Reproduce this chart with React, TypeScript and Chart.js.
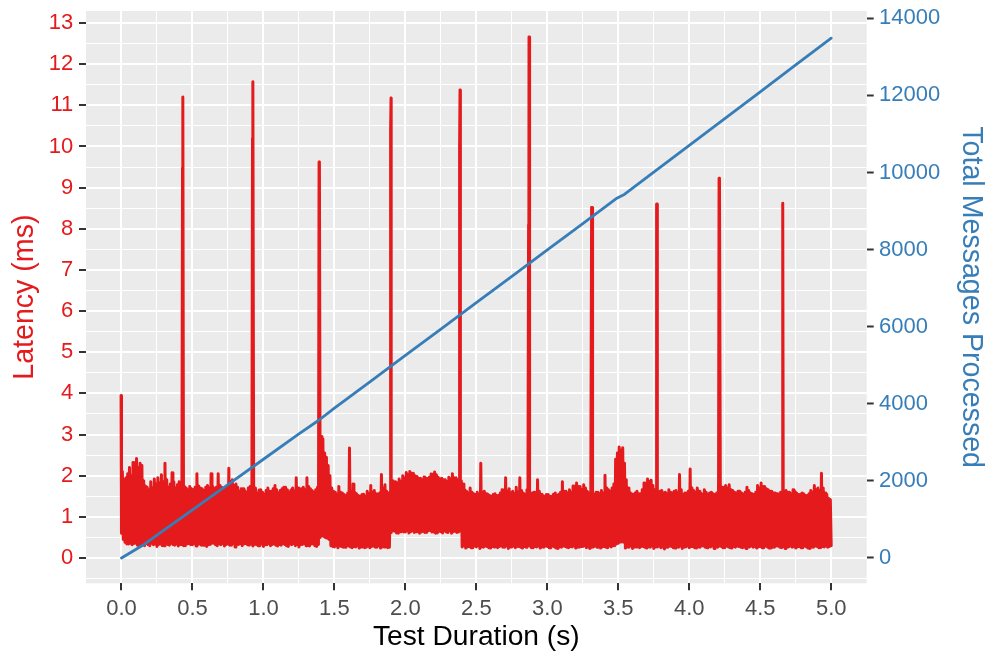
import React, { useEffect, useRef } from "react";
import { Chart, registerables } from "chart.js";

Chart.register(...registerables);

const FONT = "'Liberation Sans', Arial, Helvetica, sans-serif";
const RED = "#E41A1C";
const BLUE = "#377EB8";

// Latency band, one min/max pair per 12.5 ms window (0.000 s .. 5.000 s)
const windowStep = 0.0125;
const latencyLow = [
  0.60, 0.45, 0.38, 0.34, 0.34, 0.36, 0.32, 0.35, 0.36, 0.31, 0.30, 0.34, 0.33, 0.30, 0.35, 0.32, 0.30, 0.36, 0.32, 0.34,
  0.28, 0.33, 0.34, 0.30, 0.30, 0.35, 0.33, 0.31, 0.36, 0.33, 0.31, 0.34, 0.29, 0.33, 0.33, 0.30, 0.30, 0.34, 0.35, 0.32,
  0.32, 0.35, 0.29, 0.33, 0.34, 0.31, 0.31, 0.35, 0.28, 0.32, 0.33, 0.36, 0.36, 0.32, 0.30, 0.34, 0.32, 0.35, 0.29, 0.33,
  0.34, 0.31, 0.31, 0.35, 0.27, 0.32, 0.33, 0.35, 0.30, 0.34, 0.35, 0.32, 0.31, 0.34, 0.29, 0.33, 0.33, 0.30, 0.30, 0.34,
  0.28, 0.32, 0.32, 0.35, 0.30, 0.33, 0.34, 0.31, 0.29, 0.33, 0.31, 0.35, 0.33, 0.30, 0.28, 0.34, 0.32, 0.35, 0.30, 0.33,
  0.27, 0.32, 0.33, 0.35, 0.30, 0.33, 0.29, 0.34, 0.34, 0.30, 0.28, 0.33, 0.50, 0.54, 0.52, 0.49, 0.48, 0.45, 0.30, 0.28,
  0.27, 0.30, 0.25, 0.29, 0.28, 0.26, 0.26, 0.30, 0.29, 0.27, 0.25, 0.28, 0.27, 0.30, 0.24, 0.27, 0.28, 0.25, 0.26, 0.29,
  0.25, 0.28, 0.29, 0.26, 0.26, 0.30, 0.24, 0.27, 0.27, 0.29, 0.25, 0.26, 0.62, 0.66, 0.65, 0.61, 0.60, 0.64, 0.66, 0.63,
  0.63, 0.66, 0.61, 0.64, 0.66, 0.62, 0.64, 0.67, 0.60, 0.63, 0.65, 0.62, 0.62, 0.66, 0.67, 0.63, 0.63, 0.60, 0.61, 0.65,
  0.64, 0.61, 0.66, 0.63, 0.62, 0.66, 0.60, 0.64, 0.65, 0.62, 0.63, 0.66, 0.27, 0.30, 0.24, 0.27, 0.28, 0.25, 0.25, 0.29,
  0.27, 0.30, 0.23, 0.27, 0.26, 0.29, 0.28, 0.25, 0.24, 0.28, 0.27, 0.30, 0.25, 0.28, 0.29, 0.26, 0.26, 0.30, 0.23, 0.27,
  0.27, 0.29, 0.25, 0.28, 0.28, 0.26, 0.24, 0.28, 0.26, 0.30, 0.29, 0.25, 0.25, 0.28, 0.27, 0.29, 0.24, 0.27, 0.26, 0.29,
  0.28, 0.25, 0.25, 0.29, 0.27, 0.24, 0.23, 0.27, 0.26, 0.29, 0.28, 0.26, 0.25, 0.28, 0.27, 0.29, 0.24, 0.26, 0.26, 0.28,
  0.28, 0.30, 0.25, 0.27, 0.23, 0.26, 0.27, 0.29, 0.26, 0.28, 0.24, 0.27, 0.28, 0.26, 0.25, 0.29, 0.27, 0.30, 0.30, 0.34,
  0.36, 0.39, 0.40, 0.38, 0.24, 0.27, 0.26, 0.29, 0.23, 0.26, 0.27, 0.29, 0.25, 0.28, 0.28, 0.26, 0.24, 0.27, 0.26, 0.29,
  0.23, 0.27, 0.27, 0.29, 0.25, 0.27, 0.22, 0.26, 0.26, 0.29, 0.28, 0.25, 0.24, 0.27, 0.26, 0.29, 0.23, 0.26, 0.27, 0.29,
  0.25, 0.28, 0.28, 0.25, 0.24, 0.27, 0.26, 0.29, 0.29, 0.26, 0.25, 0.28, 0.27, 0.29, 0.23, 0.27, 0.26, 0.29, 0.28, 0.25,
  0.25, 0.29, 0.27, 0.25, 0.24, 0.28, 0.26, 0.29, 0.28, 0.26, 0.25, 0.27, 0.23, 0.26, 0.27, 0.29, 0.26, 0.28, 0.24, 0.27,
  0.28, 0.25, 0.25, 0.29, 0.27, 0.24, 0.24, 0.26, 0.26, 0.29, 0.29, 0.26, 0.25, 0.28, 0.23, 0.26, 0.27, 0.29, 0.26, 0.28,
  0.24, 0.27, 0.28, 0.25, 0.25, 0.29, 0.27, 0.24, 0.23, 0.26, 0.26, 0.29, 0.28, 0.25, 0.25, 0.28, 0.27, 0.29, 0.26, 0.28,
  0.30,
];
const latencyHigh = [
  2.10, 1.90, 1.95, 2.05, 2.20, 2.00, 2.32, 2.15, 2.42, 2.20, 2.30, 2.25, 1.88, 1.75, 1.72, 1.65, 1.85, 1.70, 1.92, 1.80,
  1.95, 1.82, 2.02, 1.85, 2.30, 1.90, 1.72, 1.80, 2.07, 1.85, 1.70, 1.78, 1.85, 1.72, 1.66, 1.74, 1.70, 1.65, 1.74, 1.68,
  1.66, 1.72, 2.05, 1.75, 1.70, 1.68, 1.64, 1.72, 1.76, 1.70, 2.05, 1.74, 1.68, 1.72, 2.05, 1.76, 1.72, 1.68, 1.70, 1.75,
  2.18, 1.85, 1.90, 1.76, 1.80, 1.72, 1.62, 1.68, 1.68, 1.64, 1.60, 1.70, 1.74, 1.66, 1.62, 1.70, 1.58, 1.65, 1.66, 1.60,
  1.55, 1.64, 1.70, 1.62, 1.62, 1.68, 1.76, 1.66, 1.58, 1.64, 1.68, 1.72, 1.72, 1.66, 1.60, 1.65, 1.70, 1.62, 1.95, 1.70,
  1.64, 1.68, 1.72, 1.66, 1.95, 1.74, 1.68, 1.64, 1.60, 1.66, 1.72, 1.70, 2.95, 2.90, 2.55, 2.45, 2.25, 2.00, 1.70, 1.62,
  1.60, 1.55, 1.74, 1.60, 1.58, 1.54, 1.52, 1.58, 2.67, 1.62, 1.80, 1.60, 1.56, 1.52, 1.50, 1.54, 1.55, 1.50, 1.62, 1.56,
  1.76, 1.60, 1.64, 1.56, 1.52, 1.58, 2.03, 1.70, 1.78, 1.62, 1.58, 1.55, 1.88, 1.80, 1.85, 1.82, 1.92, 1.86, 2.00, 1.94,
  2.08, 2.02, 2.10, 2.06, 2.06, 2.00, 1.98, 1.94, 1.94, 1.90, 1.97, 1.92, 1.93, 1.96, 2.04, 1.98, 2.09, 2.02, 1.96, 1.92,
  1.94, 1.90, 1.90, 1.86, 1.96, 1.92, 2.05, 1.95, 1.95, 1.90, 1.85, 1.88, 1.80, 1.66, 1.62, 1.58, 1.70, 1.60, 1.56, 1.54,
  1.60, 1.55, 2.30, 1.60, 1.62, 1.56, 1.55, 1.52, 1.50, 1.54, 1.56, 1.52, 1.52, 1.58, 1.66, 1.60, 1.95, 1.62, 1.68, 1.58,
  1.62, 1.56, 1.72, 1.60, 1.95, 1.64, 1.58, 1.54, 1.66, 1.60, 1.55, 1.58, 1.60, 1.56, 1.90, 1.62, 1.55, 1.52, 1.50, 1.54,
  1.54, 1.50, 1.50, 1.55, 1.58, 1.52, 1.55, 1.60, 1.85, 1.62, 1.62, 1.58, 1.66, 1.60, 1.75, 1.68, 1.82, 1.74, 1.74, 1.66,
  1.78, 1.70, 1.62, 1.58, 1.58, 1.54, 1.55, 1.60, 1.60, 1.56, 1.64, 1.58, 2.01, 1.70, 1.66, 1.62, 1.70, 1.80, 2.40, 2.55,
  2.70, 2.62, 2.68, 2.30, 1.90, 1.70, 1.60, 1.56, 1.54, 1.58, 1.62, 1.56, 1.56, 1.66, 1.82, 1.70, 1.92, 1.86, 1.89, 1.76,
  1.66, 1.60, 1.58, 1.62, 1.64, 1.58, 1.60, 1.56, 1.66, 1.60, 1.58, 1.62, 1.64, 1.58, 2.03, 1.66, 1.54, 1.58, 1.58, 1.62,
  2.16, 1.70, 1.64, 1.60, 1.70, 1.62, 1.58, 1.55, 1.66, 1.60, 1.55, 1.58, 1.60, 1.56, 1.54, 1.58, 1.80, 1.68, 1.72, 1.66,
  1.76, 1.70, 1.78, 1.66, 1.64, 1.60, 1.58, 1.62, 1.62, 1.58, 1.55, 1.60, 1.72, 1.64, 1.58, 1.56, 1.54, 1.60, 1.76, 1.70,
  1.82, 1.74, 1.74, 1.68, 1.66, 1.62, 1.62, 1.58, 1.58, 1.56, 1.55, 1.60, 1.54, 1.58, 1.64, 1.60, 1.60, 1.56, 1.66, 1.62,
  1.58, 1.54, 1.54, 1.58, 1.56, 1.52, 1.52, 1.56, 1.64, 1.60, 1.76, 1.66, 1.70, 1.64, 2.06, 1.70, 1.58, 1.55, 1.45, 1.42,
];

// Latency spikes (GC pauses): time, peak and the shoulder just before it
const spikeTimes = [0.0, 0.433, 0.926, 1.395, 1.899, 2.385, 2.871, 3.315, 3.773, 4.213, 4.66];
const spikePeaks = [3.95, 11.2, 11.57, 9.62, 11.18, 11.37, 12.66, 8.52, 8.6, 9.23, 8.62];
const spikeShoulders = [3.95, 9.48, 10.2, 9.62, 10.4, 9.95, 8.1, 8.52, 8.6, 9.23, 8.62];

// Cumulative message count
const messageTimes = [0, 0.15, 0.25, 0.5, 0.75, 1.0, 1.25, 1.39, 1.5, 1.75, 2.0, 2.25, 2.5, 2.75, 3.0, 3.25, 3.49, 3.545, 3.75, 4.0, 4.25, 4.5, 4.75, 5.0];
const messageCounts = [0, 330, 593, 1249, 1906, 2562, 3219, 3573, 3888, 4572, 5256, 5940, 6625, 7309, 7993, 8677, 9334, 9438, 10008, 10704, 11399, 12095, 12790, 13486];

// Axis ticks
const xMajorTicks = [0, 0.5, 1, 1.5, 2, 2.5, 3, 3.5, 4, 4.5, 5];
const xMinorTicks = [0.25, 0.75, 1.25, 1.75, 2.25, 2.75, 3.25, 3.75, 4.25, 4.75];
const latencyMajorTicks = [0, 1, 2, 3, 4, 5, 6, 7, 8, 9, 10, 11, 12, 13];
const latencyMinorTicks = [-0.5, 0.5, 1.5, 2.5, 3.5, 4.5, 5.5, 6.5, 7.5, 8.5, 9.5, 10.5, 11.5, 12.5];
const messageTicks = [0, 2000, 4000, 6000, 8000, 10000, 12000, 14000];

// Ranges (left axis in ms, right axis scaled to share the same zero)
const xRange = [-0.25, 5.25];
const latencyRange = [-0.615, 13.292];
const messagesPerMs = 1067.6;

function buildLatencyPoints() {
  const pts: { x: number; y: number }[] = [];
  spikeTimes.forEach((t, k) => {
    pts.push({ x: t - 0.003, y: spikeShoulders[k] });
    pts.push({ x: t, y: spikePeaks[k] });
  });
  latencyLow.forEach((v, i) => {
    const t = i * windowStep;
    pts.push({ x: t, y: v });
    if (i < latencyHigh.length) pts.push({ x: t + windowStep / 2, y: latencyHigh[i] });
  });
  return pts.sort((a, b) => a.x - b.x);
}

const panelBackground = {
  id: "panelBackground",
  beforeDraw(chart: any) {
    const { ctx, chartArea: a } = chart;
    ctx.save();
    ctx.fillStyle = "#EBEBEB";
    ctx.fillRect(a.left, a.top, a.right - a.left, a.bottom - a.top);
    ctx.restore();
  },
};

export default function App() {
  const canvasRef = useRef<HTMLCanvasElement>(null);

  useEffect(() => {
    const canvas = canvasRef.current;
    if (!canvas) return;

    const xMajor = new Set(xMajorTicks);
    const yMajor = new Set(latencyMajorTicks);
    const xTicks = [...xMajorTicks, ...xMinorTicks].sort((a, b) => a - b);
    const yTicks = [...latencyMajorTicks, ...latencyMinorTicks].sort((a, b) => a - b);

    const messagePoints = messageTimes.map((t, i) => ({ x: t, y: messageCounts[i] }));

    const chart = new Chart(canvas, {
      type: "line",
      data: {
        datasets: [
          {
            label: "Total Messages Processed",
            data: messagePoints,
            yAxisID: "y2",
            borderColor: BLUE,
            borderWidth: 2.8,
            pointRadius: 0,
            tension: 0,
            borderJoinStyle: "round",
            borderCapStyle: "round",
            fill: false,
            order: 0,
          },
          {
            label: "Latency (ms)",
            data: buildLatencyPoints(),
            yAxisID: "y",
            borderColor: RED,
            borderWidth: 3.0,
            pointRadius: 0,
            tension: 0,
            borderJoinStyle: "round",
            borderCapStyle: "round",
            fill: false,
            order: 1,
          },
        ],
      },
      options: {
        responsive: false,
        animation: false,
        devicePixelRatio: 1,
        events: [],
        layout: { padding: { top: 11, left: 0, right: 0, bottom: 0 } },
        plugins: { legend: { display: false }, tooltip: { enabled: false } },
        scales: {
          x: {
            type: "linear",
            bounds: "data",
            min: xRange[0],
            max: xRange[1],
            afterBuildTicks: (s: any) => {
              s.ticks = xTicks.map((v) => ({ value: v }));
            },
            afterFit: (s: any) => {
              s.height = 73.7;
              s.paddingLeft = 0;
              s.paddingRight = 0;
            },
            ticks: {
              autoSkip: false,
              maxRotation: 0,
              minRotation: 0,
              padding: 5.7,
              color: "#4D4D4D",
              font: { family: FONT, size: 22, lineHeight: 1.2 },
              callback: (v: any) => (xMajor.has(v) ? Number(v).toFixed(1) : ""),
            },
            grid: {
              color: "#FFFFFF",
              lineWidth: (c: any) => (xMajor.has(c.tick?.value) ? 2 : 1),
              tickLength: 7,
              tickWidth: 2,
              tickColor: (c: any) => (xMajor.has(c.tick?.value) ? "#333333" : "rgba(0,0,0,0)"),
            },
            border: { display: false },
            title: {
              display: true,
              text: "Test Duration (s)",
              color: "#000000",
              font: { family: FONT, size: 28.2, lineHeight: 1 },
              padding: { top: 0, bottom: 5.5 },
            },
          },
          y: {
            type: "linear",
            position: "left",
            bounds: "data",
            min: latencyRange[0],
            max: latencyRange[1],
            afterBuildTicks: (s: any) => {
              s.ticks = yTicks.map((v) => ({ value: v }));
            },
            afterFit: (s: any) => {
              s.width = 86;
              s.paddingTop = 0;
              s.paddingBottom = 0;
            },
            ticks: {
              autoSkip: false,
              padding: 5.7,
              color: RED,
              font: { family: FONT, size: 22, lineHeight: 1.2 },
              callback: (v: any) => (yMajor.has(v) ? String(v) : ""),
            },
            grid: {
              color: "#FFFFFF",
              lineWidth: (c: any) => (yMajor.has(c.tick?.value) ? 2 : 1),
              tickLength: 7,
              tickWidth: 2,
              tickColor: (c: any) => (yMajor.has(c.tick?.value) ? "#333333" : "rgba(0,0,0,0)"),
            },
            border: { display: false },
            title: {
              display: true,
              text: "Latency (ms)",
              color: RED,
              font: { family: FONT, size: 28.6, lineHeight: 1 },
              padding: { top: 10.4, bottom: 0 },
            },
          },
          y2: {
            type: "linear",
            position: "right",
            bounds: "data",
            min: latencyRange[0] * messagesPerMs,
            max: latencyRange[1] * messagesPerMs,
            afterBuildTicks: (s: any) => {
              s.ticks = messageTicks.map((v) => ({ value: v }));
            },
            afterFit: (s: any) => {
              s.width = 118.3;
              s.paddingTop = 0;
              s.paddingBottom = 0;
            },
            ticks: {
              autoSkip: false,
              padding: 5.3,
              color: BLUE,
              font: { family: FONT, size: 22, lineHeight: 1.2 },
              callback: (v: any) => String(v),
            },
            grid: {
              drawOnChartArea: false,
              tickLength: 7,
              tickWidth: 2,
              tickColor: "#333333",
            },
            border: { display: false },
            title: {
              display: true,
              text: "Total Messages Processed",
              color: BLUE,
              font: { family: FONT, size: 28.6, lineHeight: 1 },
              padding: { top: 0, bottom: 0 },
            },
          },
        },
      } as any,
      plugins: [panelBackground],
    });

    return () => chart.destroy();
  }, []);

  return (
    <div style={{ position: "absolute", left: 0, top: 0, width: 985, height: 657, background: "#FFFFFF" }}>
      <canvas ref={canvasRef} width={985} height={657} style={{ display: "block" }} />
    </div>
  );
}
